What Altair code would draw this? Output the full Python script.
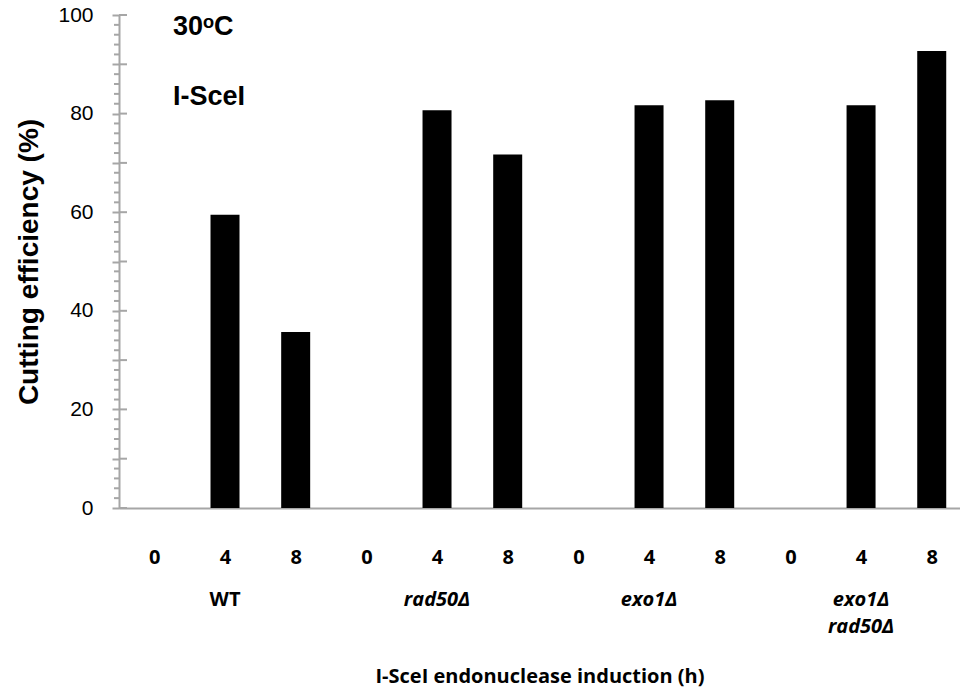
import json

import altair as alt
import pandas as pd

# Strains (x groups), induction times and measured cutting efficiency (%)
strains = ["WT", "rad50Δ", "exo1Δ", "exo1Δ\nrad50Δ"]
strain_italic = [False, True, True, True]
hours = ["0", "4", "8"]
efficiency = [
    [0, 59.5, 35.7],   # WT
    [0, 80.7, 71.7],   # rad50Δ
    [0, 81.7, 82.7],   # exo1Δ
    [0, 81.7, 92.7],   # exo1Δ rad50Δ
]
major_ticks = list(range(0, 101, 10))
minor_ticks = [v for v in range(0, 101, 2) if v % 10]

GRAY = "#a6a6a6"
W, H = 841, 493
LABEL_FONT = "Open Sans"

rows = []
for i, strain in enumerate(strains):
    for j, h in enumerate(hours):
        rows.append({"slot": i * len(hours) + j, "hour": h, "strain": strain,
                     "value": efficiency[i][j]})
bars_df = pd.DataFrame(rows)
slot_labels = [r["hour"] for r in rows]

labels_df = pd.DataFrame({
    "slot": [i * len(hours) + 1 for i in range(len(strains))],
    "label": strains,
    "italic": strain_italic,
})

x_scale = alt.Scale(domain=[-0.5, 11.4], nice=False, zero=False, padding=0)
y_scale = alt.Scale(domain=[0, 100], nice=False, padding=0)

x_enc = alt.X(
    "slot:Q",
    scale=x_scale,
    axis=alt.Axis(
        values=list(range(len(slot_labels))),
        labelExpr=f"{json.dumps(slot_labels)}[datum.value]",
        ticks=False,
        grid=False,
        domainColor=GRAY,
        domainWidth=2,
        labelFont=LABEL_FONT,
        labelFontWeight="bold",
        labelFontSize=20,
        labelColor="black",
        labelPadding=39,
        title="I-SceI endonuclease induction (h)",
        titleFont=LABEL_FONT,
        titleFontSize=20,
        titleFontWeight="bold",
        titleColor="black",
        titlePadding=99,
    ),
)

y_enc = alt.Y(
    "value:Q",
    scale=y_scale,
    axis=alt.Axis(
        values=major_ticks,
        labelExpr="datum.value % 20 == 0 ? datum.label : ''",
        tickSize=7,
        tickWidth=2,
        tickColor=GRAY,
        domainColor=GRAY,
        domainWidth=2,
        grid=False,
        labelFont="Liberation Sans",
        labelFontSize=21,
        labelColor="black",
        labelPadding=19,
        title="Cutting efficiency (%)",
        titleFont="Liberation Sans",
        titleFontSize=28,
        titleFontWeight="bold",
        titleColor="black",
        titlePadding=14,
    ),
)

bars = alt.Chart(bars_df).mark_bar(color="black", size=29).encode(x=x_enc, y=y_enc)

# minor ticks on the outside of the y axis
minor = alt.Chart(pd.DataFrame({"value": minor_ticks})).mark_rule(
    color=GRAY, strokeWidth=2
).encode(y=alt.Y("value:Q", scale=y_scale), x=alt.value(-5), x2=alt.value(0))

# major ticks cross the axis line into the plot
inner = alt.Chart(pd.DataFrame({"value": major_ticks})).mark_rule(
    color=GRAY, strokeWidth=2
).encode(y=alt.Y("value:Q", scale=y_scale), x=alt.value(0), x2=alt.value(8))

label_style = dict(font=LABEL_FONT, fontWeight="bold", fontSize=20, color="black",
                   baseline="top", align="center", lineBreak="\n", lineHeight=27)
strain_upright = alt.Chart(labels_df[~labels_df["italic"]]).mark_text(
    **label_style
).encode(x=alt.X("slot:Q", scale=x_scale), y=alt.value(575), text="label:N")
strain_italics = alt.Chart(labels_df[labels_df["italic"]]).mark_text(
    fontStyle="italic", **label_style
).encode(x=alt.X("slot:Q", scale=x_scale), y=alt.value(575), text="label:N")

notes = alt.Chart(pd.DataFrame({"note": ["30ᵒC", "I-SceI"], "py": [12, 82]})).mark_text(
    font="Liberation Sans", fontWeight="bold", fontSize=27, color="black",
    align="left", baseline="middle"
).encode(x=alt.value(54), y=alt.Y("py:Q", scale=None), text="note:N")

chart = (
    alt.layer(bars, minor, inner, strain_upright, strain_italics, notes)
    .properties(
        width=W,
        height=H,
        autosize=alt.AutoSizeParams(type="none"),
        padding={"left": 119, "top": 15, "right": 0, "bottom": 187},
        background="white",
    )
    .configure_view(stroke=None)
)

chart.save("out.html", embed_options={"renderer": "svg", "actions": False})
